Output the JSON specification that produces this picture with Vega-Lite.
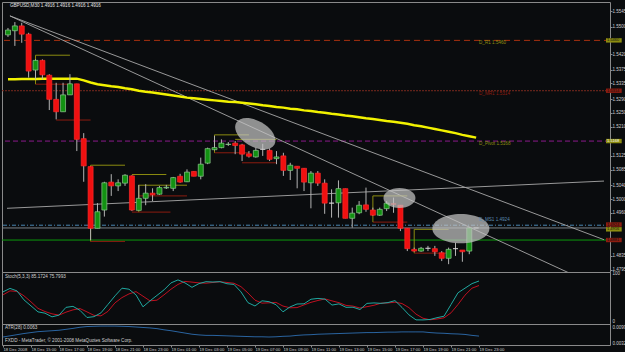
{
  "$schema": "https://vega.github.io/schema/vega-lite/v6.json",
  "background": "#0a0c0e",
  "padding": {"left": 0, "top": 1, "right": 0, "bottom": 0},
  "spacing": 0,
  "bounds": "flush",
  "config": {
    "view": {"stroke": "#8a8a8a", "strokeWidth": 1},
    "axis": {"labelColor": "#cfcfcf", "labelFont": "Liberation Sans", "labelFontSize": 4.5, "tickColor": "#8a8a8a", "domain": false, "grid": false, "tickSize": 2, "labelOverlap": false, "labelBound": false, "labelFlush": false},
    "text": {"font": "Liberation Sans", "fontSize": 4.6}
  },
  "datasets": {
    "bars": [
      {"t":13.0,"o":1.5476,"h":1.5496,"l":1.5470,"c":1.5490,"ma":1.5347,"k":62.5,"d":56.3,"atr":0.0059},
      {"t":13.5,"o":1.5488,"h":1.5513,"l":1.5444,"c":1.5502,"ma":1.5347,"k":69.8,"d":64.6,"atr":0.0064},
      {"t":14.0,"o":1.5502,"h":1.5511,"l":1.5453,"c":1.5478,"ma":1.5348,"k":64.6,"d":63.5,"atr":0.0069},
      {"t":14.5,"o":1.5478,"h":1.5482,"l":1.5352,"c":1.5371,"ma":1.5348,"k":45.8,"d":54.2,"atr":0.0074},
      {"t":15.0,"o":1.5374,"h":1.5405,"l":1.5347,"c":1.5402,"ma":1.5348,"k":33.3,"d":41.7,"atr":0.0078},
      {"t":15.5,"o":1.5402,"h":1.5405,"l":1.5347,"c":1.5360,"ma":1.5349,"k":20.8,"d":28.1,"atr":0.0082},
      {"t":16.0,"o":1.5359,"h":1.5362,"l":1.5258,"c":1.5289,"ma":1.5349,"k":18.1,"d":21.5,"atr":0.0084},
      {"t":16.5,"o":1.5289,"h":1.5337,"l":1.5231,"c":1.5253,"ma":1.5349,"k":10.4,"d":16.7,"atr":0.0086},
      {"t":17.0,"o":1.5253,"h":1.5337,"l":1.5253,"c":1.5302,"ma":1.5349,"k":14.0,"d":14.0,"atr":0.0088},
      {"t":17.5,"o":1.5302,"h":1.5362,"l":1.5302,"c":1.5334,"ma":1.5349,"k":30.2,"d":20.2,"atr":0.0092},
      {"t":18.0,"o":1.5334,"h":1.5334,"l":1.5139,"c":1.5173,"ma":1.5349,"k":32.3,"d":25.0,"atr":0.0096},
      {"t":18.5,"o":1.5175,"h":1.5191,"l":1.5050,"c":1.5096,"ma":1.5344,"k":24.0,"d":27.7,"atr":0.0101},
      {"t":19.0,"o":1.5094,"h":1.5094,"l":1.4881,"c":1.4915,"ma":1.5338,"k":9.0,"d":20.8,"atr":0.0104},
      {"t":19.5,"o":1.4915,"h":1.4988,"l":1.4915,"c":1.4963,"ma":1.5333,"k":10.8,"d":13.5,"atr":0.0105},
      {"t":20.0,"o":1.4968,"h":1.5050,"l":1.4949,"c":1.5047,"ma":1.5330,"k":18.8,"d":12.5,"atr":0.0106},
      {"t":20.5,"o":1.5049,"h":1.5072,"l":1.5009,"c":1.5038,"ma":1.5327,"k":36.5,"d":21.9,"atr":0.0106},
      {"t":21.0,"o":1.5038,"h":1.5057,"l":1.5023,"c":1.5047,"ma":1.5325,"k":54.2,"d":39.6,"atr":0.0106},
      {"t":21.5,"o":1.5046,"h":1.5072,"l":1.5038,"c":1.5069,"ma":1.5321,"k":70.2,"d":50.6,"atr":0.0105},
      {"t":22.0,"o":1.5067,"h":1.5069,"l":1.4965,"c":1.4968,"ma":1.5318,"k":68.1,"d":58.3,"atr":0.0104},
      {"t":22.5,"o":1.4967,"h":1.5041,"l":1.4967,"c":1.5002,"ma":1.5314,"k":56.3,"d":63.1,"atr":0.0102},
      {"t":23.0,"o":1.5002,"h":1.5043,"l":1.4982,"c":1.5017,"ma":1.5311,"k":31.3,"d":53.5,"atr":0.0100},
      {"t":23.5,"o":1.5017,"h":1.5031,"l":1.4994,"c":1.5012,"ma":1.5309,"k":43.8,"d":43.8,"atr":0.0098},
      {"t":24.0,"o":1.5014,"h":1.5038,"l":1.5012,"c":1.5033,"ma":1.5306,"k":55.2,"d":45.2,"atr":0.0095},
      {"t":24.5,"o":1.5032,"h":1.5041,"l":1.5029,"c":1.5034,"ma":1.5303,"k":66.7,"d":56.3,"atr":0.0090},
      {"t":25.0,"o":1.5031,"h":1.5064,"l":1.5023,"c":1.5062,"ma":1.5300,"k":81.3,"d":68.1,"atr":0.0086},
      {"t":25.5,"o":1.5066,"h":1.5073,"l":1.5047,"c":1.5049,"ma":1.5297,"k":87.5,"d":78.1,"atr":0.0081},
      {"t":26.0,"o":1.5050,"h":1.5086,"l":1.5049,"c":1.5078,"ma":1.5294,"k":81.3,"d":84.4,"atr":0.0076},
      {"t":26.5,"o":1.5080,"h":1.5080,"l":1.5066,"c":1.5066,"ma":1.5292,"k":72.0,"d":82.9,"atr":0.0071},
      {"t":27.0,"o":1.5066,"h":1.5120,"l":1.5057,"c":1.5101,"ma":1.5290,"k":79.8,"d":81.3,"atr":0.0068},
      {"t":27.5,"o":1.5104,"h":1.5149,"l":1.5101,"c":1.5146,"ma":1.5288,"k":83.8,"d":80.6,"atr":0.0066},
      {"t":28.0,"o":1.5143,"h":1.5183,"l":1.5141,"c":1.5149,"ma":1.5286,"k":83.1,"d":82.2,"atr":0.0066},
      {"t":28.5,"o":1.5149,"h":1.5173,"l":1.5147,"c":1.5162,"ma":1.5284,"k":83.9,"d":83.6,"atr":0.0065},
      {"t":29.0,"o":1.5158,"h":1.5165,"l":1.5154,"c":1.5159,"ma":1.5282,"k":79.5,"d":82.2,"atr":0.0064},
      {"t":29.5,"o":1.5162,"h":1.5168,"l":1.5130,"c":1.5155,"ma":1.5281,"k":78.1,"d":80.5,"atr":0.0063},
      {"t":30.0,"o":1.5157,"h":1.5160,"l":1.5110,"c":1.5130,"ma":1.5279,"k":62.5,"d":73.4,"atr":0.0062},
      {"t":30.5,"o":1.5131,"h":1.5139,"l":1.5120,"c":1.5124,"ma":1.5277,"k":40.0,"d":60.2,"atr":0.0061},
      {"t":31.0,"o":1.5122,"h":1.5149,"l":1.5120,"c":1.5141,"ma":1.5275,"k":33.1,"d":45.2,"atr":0.0060},
      {"t":31.5,"o":1.5144,"h":1.5160,"l":1.5125,"c":1.5144,"ma":1.5272,"k":43.9,"d":39.0,"atr":0.0060},
      {"t":32.0,"o":1.5141,"h":1.5147,"l":1.5110,"c":1.5115,"ma":1.5270,"k":42.1,"d":39.7,"atr":0.0059},
      {"t":32.5,"o":1.5117,"h":1.5139,"l":1.5101,"c":1.5122,"ma":1.5267,"k":35.8,"d":40.6,"atr":0.0060},
      {"t":33.0,"o":1.5125,"h":1.5134,"l":1.5067,"c":1.5083,"ma":1.5265,"k":20.9,"d":32.9,"atr":0.0062},
      {"t":33.5,"o":1.5083,"h":1.5105,"l":1.5055,"c":1.5098,"ma":1.5262,"k":31.1,"d":29.3,"atr":0.0063},
      {"t":34.0,"o":1.5095,"h":1.5095,"l":1.5031,"c":1.5089,"ma":1.5260,"k":37.2,"d":29.7,"atr":0.0066},
      {"t":34.5,"o":1.5089,"h":1.5089,"l":1.5023,"c":1.5049,"ma":1.5257,"k":37.6,"d":35.3,"atr":0.0068},
      {"t":35.0,"o":1.5047,"h":1.5081,"l":1.4973,"c":1.5075,"ma":1.5255,"k":47.2,"d":40.7,"atr":0.0069},
      {"t":35.5,"o":1.5075,"h":1.5081,"l":1.5038,"c":1.5046,"ma":1.5252,"k":48.9,"d":44.6,"atr":0.0071},
      {"t":36.0,"o":1.5046,"h":1.5057,"l":1.4957,"c":1.4988,"ma":1.5250,"k":47.4,"d":47.8,"atr":0.0072},
      {"t":36.5,"o":1.4988,"h":1.5028,"l":1.4946,"c":1.4988,"ma":1.5247,"k":35.0,"d":43.8,"atr":0.0073},
      {"t":37.0,"o":1.4989,"h":1.5054,"l":1.4946,"c":1.5030,"ma":1.5245,"k":37.5,"d":40.0,"atr":0.0074},
      {"t":37.5,"o":1.5030,"h":1.5030,"l":1.4944,"c":1.4944,"ma":1.5242,"k":30.3,"d":34.3,"atr":0.0075},
      {"t":38.0,"o":1.4944,"h":1.4975,"l":1.4917,"c":1.4959,"ma":1.5240,"k":30.5,"d":32.8,"atr":0.0076},
      {"t":38.5,"o":1.4960,"h":1.4994,"l":1.4956,"c":1.4982,"ma":1.5237,"k":25.7,"d":28.8,"atr":0.0077},
      {"t":39.0,"o":1.4983,"h":1.5033,"l":1.4963,"c":1.4970,"ma":1.5234,"k":38.5,"d":31.6,"atr":0.0078},
      {"t":39.5,"o":1.4968,"h":1.4975,"l":1.4951,"c":1.4953,"ma":1.5232,"k":39.5,"d":34.6,"atr":0.0078},
      {"t":40.0,"o":1.4953,"h":1.4975,"l":1.4951,"c":1.4970,"ma":1.5229,"k":38.6,"d":38.9,"atr":0.0079},
      {"t":40.5,"o":1.4972,"h":1.4994,"l":1.4965,"c":1.4988,"ma":1.5226,"k":40.2,"d":39.4,"atr":0.0080},
      {"t":41.0,"o":1.4986,"h":1.5004,"l":1.4960,"c":1.4985,"ma":1.5224,"k":44.3,"d":41.0,"atr":0.0080},
      {"t":41.5,"o":1.4982,"h":1.4982,"l":1.4907,"c":1.4915,"ma":1.5221,"k":30.1,"d":38.2,"atr":0.0081},
      {"t":42.0,"o":1.4915,"h":1.4915,"l":1.4849,"c":1.4856,"ma":1.5218,"k":14.5,"d":29.6,"atr":0.0081},
      {"t":42.5,"o":1.4854,"h":1.4859,"l":1.4847,"c":1.4849,"ma":1.5214,"k":4.1,"d":16.2,"atr":0.0081},
      {"t":43.0,"o":1.4849,"h":1.4861,"l":1.4847,"c":1.4857,"ma":1.5211,"k":4.0,"d":7.5,"atr":0.0081},
      {"t":43.5,"o":1.4857,"h":1.4864,"l":1.4849,"c":1.4857,"ma":1.5207,"k":4.9,"d":4.3,"atr":0.0078},
      {"t":44.0,"o":1.4856,"h":1.4864,"l":1.4835,"c":1.4847,"ma":1.5203,"k":8.7,"d":5.9,"atr":0.0076},
      {"t":44.5,"o":1.4844,"h":1.4849,"l":1.4820,"c":1.4828,"ma":1.5199,"k":11.7,"d":8.4,"atr":0.0075},
      {"t":45.0,"o":1.4828,"h":1.4859,"l":1.4811,"c":1.4854,"ma":1.5195,"k":36.1,"d":18.8,"atr":0.0073},
      {"t":45.5,"o":1.4856,"h":1.4873,"l":1.4835,"c":1.4856,"ma":1.5191,"k":60.7,"d":36.2,"atr":0.0072},
      {"t":46.0,"o":1.4852,"h":1.4852,"l":1.4818,"c":1.4847,"ma":1.5186,"k":70.2,"d":55.7,"atr":0.0070},
      {"t":46.5,"o":1.4849,"h":1.4919,"l":1.4840,"c":1.4916,"ma":1.5182,"k":79.8,"d":70.2,"atr":0.0066},
      {"t":47.0,"o":1.4916,"h":1.4916,"l":1.4916,"c":1.4916,"ma":1.5178,"k":85.2,"d":75.8,"atr":0.0063}
    ],
    "levels": [
      {"name":"R1","price":1.5460,"label":"D_R1  1.5460"},
      {"name":"MR1","price":1.5314,"label":"D_MR1  1.5314"},
      {"name":"Pivot","price":1.5168,"label":"D_Pivot  1.5168"},
      {"name":"MS1","price":1.4924,"label":"D_MS1  1.4924"},
      {"name":"Bid","price":1.4916,"label":""},
      {"name":"Sup","price":1.4881,"label":""}
    ],
    "trend": [
      {"t1":13.143,"p1":1.5531,"t2":56.286,"p2":1.4882},
      {"t1":13.143,"p1":1.5531,"t2":56.286,"p2":1.4739},
      {"t1":12.929,"p1":1.4973,"t2":56.286,"p2":1.5052}
    ],
    "brk": [
      {"t1":15,"t2":17.5,"p1":1.5417,"p2":1.5417,"kind":"hi"},
      {"t1":19,"t2":21.5,"p1":1.5098,"p2":1.5098,"kind":"hi"},
      {"t1":22,"t2":24.5,"p1":1.5071,"p2":1.5071,"kind":"hi"},
      {"t1":22.5,"t2":26,"p1":1.5040,"p2":1.5040,"kind":"hi"},
      {"t1":28,"t2":30.5,"p1":1.5186,"p2":1.5186,"kind":"hi"},
      {"t1":29.5,"t2":32.5,"p1":1.5173,"p2":1.5173,"kind":"hi"},
      {"t1":39.5,"t2":42,"p1":1.5009,"p2":1.5009,"kind":"hi"},
      {"t1":42.5,"t2":45,"p1":1.4912,"p2":1.4912,"kind":"hi"},
      {"t1":15,"t2":17.5,"p1":1.5333,"p2":1.5333,"kind":"lo"},
      {"t1":16.5,"t2":19,"p1":1.5229,"p2":1.5229,"kind":"lo"},
      {"t1":19,"t2":21.5,"p1":1.4877,"p2":1.4877,"kind":"lo"},
      {"t1":22,"t2":24.8,"p1":1.4962,"p2":1.4962,"kind":"lo"},
      {"t1":22.5,"t2":26,"p1":1.5009,"p2":1.5009,"kind":"lo"},
      {"t1":28,"t2":30.5,"p1":1.5134,"p2":1.5134,"kind":"lo"},
      {"t1":30,"t2":32.5,"p1":1.5105,"p2":1.5105,"kind":"lo"},
      {"t1":39.5,"t2":42,"p1":1.4933,"p2":1.4933,"kind":"lo"},
      {"t1":42.5,"t2":45,"p1":1.4843,"p2":1.4843,"kind":"lo"},
      {"t1":15,"t2":15,"p1":1.5417,"p2":1.5333,"kind":"hi"},
      {"t1":19,"t2":19,"p1":1.5098,"p2":1.4877,"kind":"hi"},
      {"t1":22.5,"t2":22.5,"p1":1.5040,"p2":1.4962,"kind":"hi"},
      {"t1":28,"t2":28,"p1":1.5186,"p2":1.5134,"kind":"hi"},
      {"t1":39.5,"t2":39.5,"p1":1.5009,"p2":1.4933,"kind":"hi"},
      {"t1":42.5,"t2":42.5,"p1":1.4912,"p2":1.4843,"kind":"hi"}
    ],
    "ell": [
      {"name":"E1","t":30.96,"p":1.5189},
      {"name":"E2","t":41.43,"p":1.5003},
      {"name":"E3","t":45.89,"p":1.4914}
    ],
    "tags": [
      {"tag":"R1","price":1.5460,"label":"1.5460"},
      {"tag":"MR1","price":1.5314,"label":"1.5314"},
      {"tag":"Pivot","price":1.5168,"label":"1.5168"},
      {"tag":"MS1","price":1.4926,"label":"1.4924"},
      {"tag":"Bid","price":1.4912,"label":"1.4916"},
      {"tag":"Sup","price":1.4881,"label":"1.4881"}
    ],
    "notes": [
      {"panel":"main","t":13.143,"v":1.55597,"label":"GBPUSD,M30  1.4916 1.4916 1.4916 1.4916"},
      {"panel":"stoch","t":13.143,"v":93.6,"label":"Stoch(5,3,3) 85.1724 75.7993"},
      {"panel":"atr","t":13.143,"v":0.00956,"label":"ATR(28) 0.0063"},
      {"panel":"atr","t":13.143,"v":0.00419,"label":"FXDD - MetaTrader, © 2001-2008 MetaQuotes Software Corp."}
    ]
  },
  "vconcat": [
    {
      "width": 608,
      "height": 270,
      "layer": [
        {
          "data": {"name": "levels"},
          "transform": [{"filter": "datum.name === 'R1'"}],
          "mark": {"type": "rule", "color": "#a8300f", "strokeWidth": 1, "strokeDash": [6, 4]},
          "encoding": {
            "y": {"field": "price", "type": "quantitative", "scale": {"domain": [1.47883, 1.55713], "nice": false, "zero": false},
              "axis": {"orient": "right", "title": null, "values": [1.5545, 1.55, 1.542, 1.5375, 1.5335, 1.529, 1.525, 1.521, 1.5125, 1.5085, 1.504, 1.5, 1.496, 1.4835, 1.4795], "tickCount": 100, "format": ".4f", "labelAlign": "left", "labelPadding": 0, "tickSize": 2, "labelBaseline": "middle", "labelOverlap": false, "labelBound": false, "labelFlush": false}}
          }
        },
        {
          "data": {"name": "levels"},
          "transform": [{"filter": "datum.name === 'MR1'"}],
          "mark": {"type": "rule", "color": "#7a2a1e", "strokeWidth": 1, "strokeDash": [2, 1]},
          "encoding": {"y": {"field": "price", "type": "quantitative"}}
        },
        {
          "data": {"name": "levels"},
          "transform": [{"filter": "datum.name === 'Pivot'"}],
          "mark": {"type": "rule", "color": "#8a1a8a", "strokeWidth": 1, "strokeDash": [5, 3]},
          "encoding": {"y": {"field": "price", "type": "quantitative"}}
        },
        {
          "data": {"name": "levels"},
          "transform": [{"filter": "datum.name === 'MS1'"}],
          "mark": {"type": "rule", "color": "#4a86b0", "strokeWidth": 1, "strokeDash": [4, 2, 1, 2]},
          "encoding": {"y": {"field": "price", "type": "quantitative"}}
        },
        {
          "data": {"name": "levels"},
          "transform": [{"filter": "datum.name === 'Bid'"}],
          "mark": {"type": "rule", "color": "#7c8288", "strokeWidth": 1},
          "encoding": {"y": {"field": "price", "type": "quantitative"}}
        },
        {
          "data": {"name": "levels"},
          "transform": [{"filter": "datum.name === 'Sup'"}],
          "mark": {"type": "rule", "color": "#0c9a0c", "strokeWidth": 1},
          "encoding": {"y": {"field": "price", "type": "quantitative"}}
        },
        {
          "data": {"name": "trend"},
          "mark": {"type": "rule", "color": "#a8a8a8", "strokeWidth": 0.9, "clip": true},
          "encoding": {
            "x": {"field": "t1", "type": "quantitative", "scale": {"domain": [12.929, 56.357], "nice": false, "zero": false}, "axis": null},
            "x2": {"field": "t2"},
            "y": {"field": "p1", "type": "quantitative"},
            "y2": {"field": "p2"}
          }
        },
        {
          "data": {"name": "brk"},
          "mark": {"type": "rule", "strokeWidth": 1, "clip": true},
          "encoding": {
            "x": {"field": "t1", "type": "quantitative", "axis": null},
            "x2": {"field": "t2"},
            "y": {"field": "p1", "type": "quantitative"},
            "y2": {"field": "p2"},
            "color": {"field": "kind", "type": "nominal", "scale": {"domain": ["hi", "lo"], "range": ["#8c8c10", "#8c1c10"]}, "legend": null}
          }
        },
        {
          "data": {"name": "bars"},
          "mark": {"type": "line", "color": "#f2f200", "strokeWidth": 2.5, "clip": true},
          "encoding": {
            "x": {"field": "t", "type": "quantitative", "axis": null},
            "y": {"field": "ma", "type": "quantitative"}
          }
        },
        {
          "data": {"name": "bars"},
          "mark": {"type": "rule", "color": "#b4b4b4", "strokeWidth": 1, "clip": true},
          "encoding": {
            "x": {"field": "t", "type": "quantitative", "axis": null},
            "y": {"field": "l", "type": "quantitative"},
            "y2": {"field": "h"}
          }
        },
        {
          "data": {"name": "bars"},
          "mark": {"type": "bar", "width": 5, "strokeWidth": 0.7, "clip": true},
          "encoding": {
            "x": {"field": "t", "type": "quantitative", "axis": null},
            "y": {"field": "o", "type": "quantitative"},
            "y2": {"field": "c"},
            "fill": {"condition": [{"test": "datum.c > datum.o", "value": "#129212"}, {"test": "datum.c < datum.o", "value": "#f01010"}], "value": "#d8d8d8"},
            "stroke": {"condition": [{"test": "datum.c > datum.o", "value": "#90c890"}, {"test": "datum.c < datum.o", "value": "#ff2a2a"}], "value": "#d8d8d8"}
          }
        },
        {
          "data": {"name": "ell"},
          "transform": [{"filter": "datum.name === 'E1'"}],
          "mark": {"type": "point", "filled": true, "color": "#c4c4c4", "opacity": 0.72, "size": 1936, "angle": 30, "shape": "M-1,0 A1,0.59 0 1,1 1,0 A1,0.59 0 1,1 -1,0 Z"},
          "encoding": {
            "x": {"field": "t", "type": "quantitative", "axis": null},
            "y": {"field": "p", "type": "quantitative"}
          }
        },
        {
          "data": {"name": "ell"},
          "transform": [{"filter": "datum.name === 'E2'"}],
          "mark": {"type": "point", "filled": true, "color": "#c4c4c4", "opacity": 0.72, "size": 1024, "shape": "M-1,0 A1,0.625 0 1,1 1,0 A1,0.625 0 1,1 -1,0 Z"},
          "encoding": {
            "x": {"field": "t", "type": "quantitative", "axis": null},
            "y": {"field": "p", "type": "quantitative"}
          }
        },
        {
          "data": {"name": "ell"},
          "transform": [{"filter": "datum.name === 'E3'"}],
          "mark": {"type": "point", "filled": true, "color": "#c4c4c4", "opacity": 0.72, "size": 3249, "shape": "M-1,0 A1,0.51 0 1,1 1,0 A1,0.51 0 1,1 -1,0 Z"},
          "encoding": {
            "x": {"field": "t", "type": "quantitative", "axis": null},
            "y": {"field": "p", "type": "quantitative"}
          }
        },
        {
          "data": {"name": "levels"},
          "transform": [{"filter": "datum.name === 'R1' || datum.name === 'MR1' || datum.name === 'Pivot'"}],
          "mark": {"type": "text", "align": "left", "baseline": "middle", "dy": 3},
          "encoding": {
            "x": {"datum": 47.21, "type": "quantitative", "axis": null},
            "y": {"field": "price", "type": "quantitative"},
            "text": {"field": "label"},
            "color": {"field": "name", "type": "nominal", "scale": {"domain": ["R1", "MR1", "Pivot", "MS1"], "range": ["#b03418", "#a0382a", "#b028b0", "#5a8ab0"]}, "legend": null}
          }
        },
        {
          "data": {"name": "levels"},
          "transform": [{"filter": "datum.name === 'MS1'"}],
          "mark": {"type": "text", "align": "left", "baseline": "middle", "dy": -5, "color": "#5a8ab0"},
          "encoding": {
            "x": {"datum": 47.21, "type": "quantitative", "axis": null},
            "y": {"field": "price", "type": "quantitative"},
            "text": {"field": "label"}
          }
        },
        {
          "data": {"name": "notes"},
          "transform": [{"filter": "datum.panel === 'main'"}],
          "mark": {"type": "text", "align": "left", "baseline": "middle", "color": "#e6e6e6"},
          "encoding": {
            "x": {"field": "t", "type": "quantitative", "axis": null},
            "y": {"field": "v", "type": "quantitative"},
            "text": {"field": "label"}
          }
        },
        {
          "data": {"name": "tags"},
          "mark": {"type": "rect", "yOffset": -2.2, "y2Offset": 2.2},
          "encoding": {
            "x": {"datum": 56.43, "type": "quantitative", "axis": null},
            "x2": {"datum": 57.57},
            "y": {"field": "price", "type": "quantitative"},
            "y2": {"field": "price"},
            "color": {"field": "tag", "type": "nominal", "scale": {"domain": ["R1", "MR1", "Pivot", "MS1", "Bid", "Sup"], "range": ["#f05a1e", "#f0a0a0", "#ff20ff", "#a8dcf0", "#e8e8e8", "#10f010"]}, "legend": null}
          }
        },
        {
          "data": {"name": "tags"},
          "mark": {"type": "text", "align": "left", "baseline": "middle", "dx": 1, "fontSize": 4},
          "encoding": {
            "x": {"datum": 56.43, "type": "quantitative", "axis": null},
            "y": {"field": "price", "type": "quantitative"},
            "text": {"field": "label"},
            "color": {"condition": {"test": "datum.tag === 'Pivot'", "value": "#ffffff"}, "value": "#101010"}
          }
        }
      ]
    },
    {
      "width": 608,
      "height": 52,
      "layer": [
        {
          "data": {"name": "bars"},
          "mark": {"type": "line", "color": "#c01020", "strokeWidth": 1},
          "encoding": {
            "x": {"field": "t", "type": "quantitative", "scale": {"domain": [12.929, 56.357], "nice": false, "zero": false}, "axis": null},
            "y": {"field": "d", "type": "quantitative", "scale": {"domain": [-4.5, 104], "nice": false, "zero": false},
              "axis": {"orient": "right", "title": null, "values": [0, 100], "tickCount": 100, "format": "d", "labelAlign": "left", "labelPadding": 2, "labelBaseline": "middle", "ticks": false, "labelOverlap": false}}
          }
        },
        {
          "data": {"name": "bars"},
          "mark": {"type": "line", "color": "#20a8a0", "strokeWidth": 1},
          "encoding": {
            "x": {"field": "t", "type": "quantitative", "axis": null},
            "y": {"field": "k", "type": "quantitative"}
          }
        },
        {
          "data": {"name": "notes"},
          "transform": [{"filter": "datum.panel === 'stoch'"}],
          "mark": {"type": "text", "align": "left", "baseline": "middle", "color": "#d0d0d0"},
          "encoding": {
            "x": {"field": "t", "type": "quantitative", "axis": null},
            "y": {"field": "v", "type": "quantitative"},
            "text": {"field": "label"}
          }
        }
      ]
    },
    {
      "width": 608,
      "height": 21,
      "layer": [
        {
          "data": {"name": "bars"},
          "mark": {"type": "line", "color": "#2a64a0", "strokeWidth": 1},
          "encoding": {
            "x": {"field": "t", "type": "quantitative", "scale": {"domain": [12.929, 56.357], "nice": false, "zero": false},
              "axis": {"orient": "bottom", "title": null, "values": [13, 15, 17, 19, 21, 23, 25, 27, 29, 31, 33, 35, 37, 39, 41, 43, 45, 47], "tickCount": 100, "labelAlign": "left", "labelPadding": 0, "tickSize": 2, "labelFontSize": 4.2, "labelOverlap": false, "labelBound": false, "labelFlush": false,
                "labelExpr": "datum.value == 13 ? '18 Dec 2008' : (datum.value < 24 ? '18 Dec ' : '19 Dec ') + (datum.value % 24 < 10 ? '0' : '') + (datum.value % 24) + ':00'"}},
            "y": {"field": "atr", "type": "quantitative", "scale": {"domain": [0.00247, 0.01149], "nice": false, "zero": false},
              "axis": {"orient": "right", "title": null, "values": [0.0032, 0.0099], "tickCount": 100, "format": ".4f", "labelAlign": "left", "labelPadding": 2, "labelBaseline": "middle", "ticks": false, "labelOverlap": false}}
          }
        },
        {
          "data": {"name": "notes"},
          "transform": [{"filter": "datum.panel === 'atr'"}],
          "mark": {"type": "text", "align": "left", "baseline": "middle", "color": "#d0d0d0"},
          "encoding": {
            "x": {"field": "t", "type": "quantitative"},
            "y": {"field": "v", "type": "quantitative"},
            "text": {"field": "label"}
          }
        }
      ]
    }
  ]
}
